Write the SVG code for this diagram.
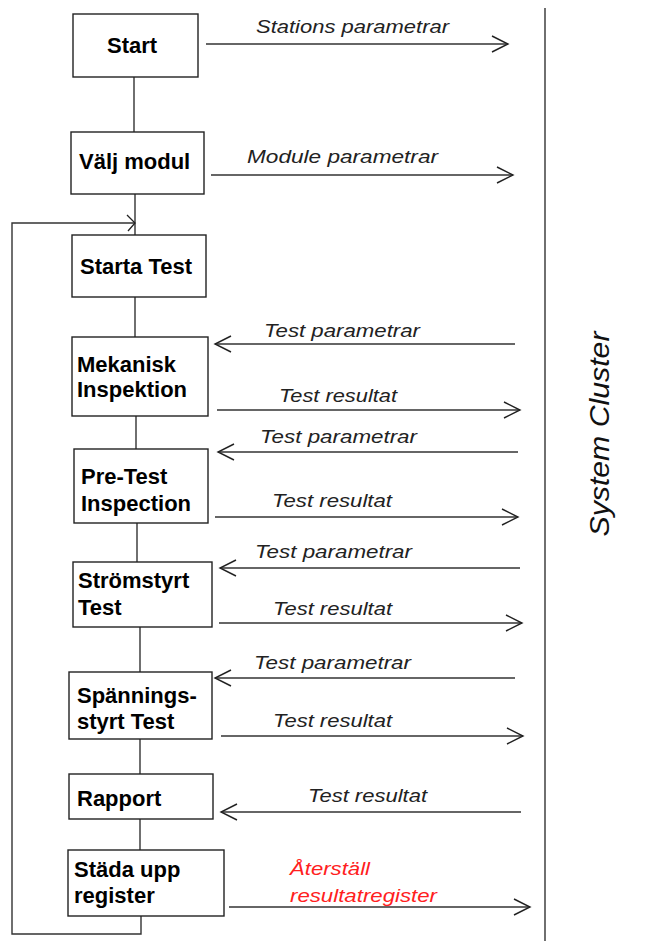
<svg xmlns="http://www.w3.org/2000/svg" width="649" height="941" viewBox="0 0 649 941">
<style>
.box{fill:#fff;stroke:#222;stroke-width:1.4}
.ln{fill:none;stroke:#333;stroke-width:1.4}
.b{font-family:"Liberation Sans",Arial,sans-serif;font-weight:bold;font-size:22px;fill:#000}
.i{font-family:"Liberation Sans",Arial,sans-serif;font-style:italic;font-size:19px;fill:#222}
.red{fill:#ff2020}
.sys{font-family:"Liberation Sans",Arial,sans-serif;font-style:italic;font-size:27px;fill:#111}
</style>
<defs>
<marker id="ah" markerUnits="userSpaceOnUse" markerWidth="20" markerHeight="20" refX="17" refY="9" orient="auto" overflow="visible">
<path d="M1,1 L17,9 L1,17" fill="none" stroke="#222" stroke-width="1.4"/>
</marker>
<marker id="ahs" markerUnits="userSpaceOnUse" markerWidth="12" markerHeight="20" refX="9" refY="9" orient="auto" overflow="visible">
<path d="M1,1 L9,9 L2,17" fill="none" stroke="#222" stroke-width="1.3"/>
</marker>
</defs>
<rect width="649" height="941" fill="#fff"/>

<g id="connectors">
<path class="ln" d="M134,77 V132"/>
<path class="ln" d="M135,194 V235"/>
<path class="ln" d="M135,297 V337"/>
<path class="ln" d="M136,416 V449"/>
<path class="ln" d="M137,523 V562"/>
<path class="ln" d="M140,627 V672"/>
<path class="ln" d="M140,739 V774"/>
<path class="ln" d="M140,819 V850"/>
<path class="ln" d="M141,916 V934 H12 V223 H135" marker-end="url(#ahs)"/>
<path class="ln" d="M206,44 H508" marker-end="url(#ah)"/>
<path class="ln" d="M211,175 H513" marker-end="url(#ah)"/>
<path class="ln" d="M515,344 H215" marker-end="url(#ah)"/>
<path class="ln" d="M217,410 H520" marker-end="url(#ah)"/>
<path class="ln" d="M518,452 H218" marker-end="url(#ah)"/>
<path class="ln" d="M215,517 H518" marker-end="url(#ah)"/>
<path class="ln" d="M520,568 H220" marker-end="url(#ah)"/>
<path class="ln" d="M219,623 H522" marker-end="url(#ah)"/>
<path class="ln" d="M515,678 H215" marker-end="url(#ah)"/>
<path class="ln" d="M221,736 H523" marker-end="url(#ah)"/>
<path class="ln" d="M521,812 H221" marker-end="url(#ah)"/>
<path class="ln" d="M229,907 H530" marker-end="url(#ah)"/>
<text class="i" x="256" y="33" textLength="193" lengthAdjust="spacingAndGlyphs">Stations parametrar</text>
<text class="i" x="247" y="163" textLength="191" lengthAdjust="spacingAndGlyphs">Module parametrar</text>
<text class="i" x="264" y="337" textLength="156" lengthAdjust="spacingAndGlyphs">Test parametrar</text>
<text class="i" x="279" y="402" textLength="118" lengthAdjust="spacingAndGlyphs">Test resultat</text>
<text class="i" x="260" y="443" textLength="157" lengthAdjust="spacingAndGlyphs">Test parametrar</text>
<text class="i" x="272" y="507" textLength="120" lengthAdjust="spacingAndGlyphs">Test resultat</text>
<text class="i" x="255" y="558" textLength="157" lengthAdjust="spacingAndGlyphs">Test parametrar</text>
<text class="i" x="273" y="615" textLength="119" lengthAdjust="spacingAndGlyphs">Test resultat</text>
<text class="i" x="254" y="669" textLength="157" lengthAdjust="spacingAndGlyphs">Test parametrar</text>
<text class="i" x="273" y="727" textLength="119" lengthAdjust="spacingAndGlyphs">Test resultat</text>
<text class="i" x="308" y="802" textLength="119" lengthAdjust="spacingAndGlyphs">Test resultat</text>
<text class="i red" x="290" y="875" textLength="80" lengthAdjust="spacingAndGlyphs">Återställ</text>
<text class="i red" x="290" y="902" textLength="147" lengthAdjust="spacingAndGlyphs">resultatregister</text>
</g>

<g id="start"><rect class="box" x="73" y="14" width="125" height="63"/><text class="b" x="107" y="53">Start</text></g>
<g id="valj-modul"><rect class="box" x="71" y="132" width="133" height="62"/><text class="b" x="79" y="169">Välj modul</text></g>
<g id="starta-test"><rect class="box" x="72" y="235" width="134" height="62"/><text class="b" x="80" y="274">Starta Test</text></g>
<g id="mekanisk"><rect class="box" x="72" y="337" width="136" height="79"/><text class="b" x="77" y="372">Mekanisk</text><text class="b" x="77" y="397">Inspektion</text></g>
<g id="pretest"><rect class="box" x="74" y="449" width="134" height="74"/><text class="b" x="81" y="484">Pre-Test</text><text class="b" x="81" y="511">Inspection</text></g>
<g id="stromstyrt"><rect class="box" x="73" y="562" width="139" height="65"/><text class="b" x="78" y="588">Strömstyrt</text><text class="b" x="78" y="615">Test</text></g>
<g id="spanningsstyrt"><rect class="box" x="69" y="672" width="143" height="67"/><text class="b" x="77" y="703">Spännings-</text><text class="b" x="77" y="729">styrt Test</text></g>
<g id="rapport"><rect class="box" x="69" y="774" width="144" height="45"/><text class="b" x="77" y="806">Rapport</text></g>
<g id="stada"><rect class="box" x="68" y="850" width="156" height="66"/><text class="b" x="74" y="877">Städa upp</text><text class="b" x="74" y="903">register</text></g>

<g id="system-cluster">
<path class="ln" d="M545,8 V941"/>
<text class="sys" x="609" y="434" text-anchor="middle" textLength="205" lengthAdjust="spacingAndGlyphs" transform="rotate(-90 609 434)">System Cluster</text>
</g>
</svg>
